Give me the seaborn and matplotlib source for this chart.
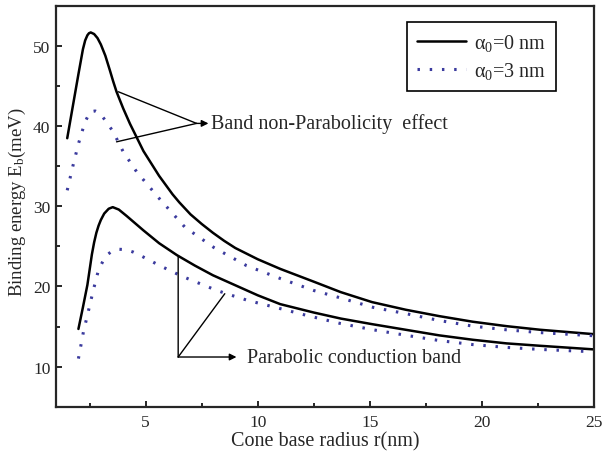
import numpy as np
import pandas as pd
import matplotlib
matplotlib.use('Agg')
import matplotlib.pyplot as plt
import seaborn as sns

# Binding energy vs cone base radius
# non-parabolic band, alpha0 = 0 nm (upper solid)
r_np0 = [1.5, 1.8, 2.0, 2.2, 2.3, 2.4, 2.47, 2.55, 2.7, 2.85, 3.0, 3.2, 3.4, 3.55, 3.7, 4.0, 4.3,
         4.9, 5.6, 6.2, 6.5, 7.0, 7.5, 8.0, 8.5, 9.0, 9.5, 10.0, 11.0, 12.5, 13.7, 15.1, 16.6,
         18.1, 19.6, 21.1, 22.6, 25.0]
E_np0 = [38.5, 43.3, 46.5, 49.6, 50.7, 51.35, 51.6, 51.7, 51.5, 51.0, 50.2, 48.8, 47.0, 45.6, 44.3,
         42.2, 40.3, 36.9, 33.8, 31.5, 30.5, 29.0, 27.8, 26.7, 25.7, 24.8, 24.1, 23.4, 22.2, 20.6,
         19.3, 18.05, 17.1, 16.3, 15.6, 15.05, 14.6, 14.05]

# non-parabolic band, alpha0 = 3 nm (upper dotted)
r_np3 = [1.5, 1.75, 2.0, 2.29, 2.52, 2.75, 2.96, 3.26, 3.55, 4.0, 4.6, 5.63, 6.75, 8.05, 9.5,
         11.0, 12.5, 13.66, 15.14, 16.63, 18.11, 19.6, 21.08, 22.57, 25.0]
E_np3 = [32.0, 35.0, 37.8, 40.5, 41.8, 41.9, 41.6, 40.5, 39.3, 36.8, 34.3, 30.9, 27.4, 24.85, 22.6,
         21.0, 19.5, 18.6, 17.4, 16.6, 15.75, 15.05, 14.6, 14.25, 13.85]

# parabolic band, alpha0 = 0 nm (lower solid)
r_p0 = [2.0, 2.2, 2.4, 2.6, 2.7, 2.8, 2.9, 3.0, 3.15, 3.35, 3.53, 3.8, 4.15, 4.9, 5.6, 6.4, 7.2,
        8.0, 9.2, 10.0, 11.0, 12.5, 13.7, 15.1, 16.6, 18.1, 19.6, 21.1, 22.6, 25.0]
E_p0 = [14.7, 17.4, 20.2, 24.0, 25.5, 26.7, 27.6, 28.3, 29.1, 29.7, 29.9, 29.6, 28.8, 27.0, 25.4,
        23.9, 22.6, 21.4, 19.9, 18.9, 17.8, 16.75, 16.0, 15.3, 14.6, 13.9, 13.35, 12.9, 12.6, 12.15]

# parabolic band, alpha0 = 3 nm (lower dotted)
r_p3 = [2.0, 2.22, 2.45, 2.66, 2.89, 3.1, 3.3, 3.55, 3.78, 4.1, 4.44, 4.74, 5.19, 5.63, 6.23, 6.6,
        7.12, 8.09, 8.6, 9.57, 11.06, 12.17, 13.66, 15.14, 16.63, 18.11, 19.6, 21.08, 22.57, 25.0]
E_p3 = [11.0, 14.3, 17.0, 19.5, 22.0, 23.2, 24.0, 24.5, 24.65, 24.6, 24.3, 23.9, 23.25, 22.6, 21.8, 21.3,
        20.7, 19.6, 19.1, 18.25, 17.2, 16.4, 15.4, 14.6, 13.9, 13.25, 12.75, 12.4, 12.15, 11.85]

sns.set_style('ticks')
plt.rcParams['font.family'] = ['Liberation Serif', 'DejaVu Serif']
plt.rcParams['mathtext.fontset'] = 'custom'
plt.rcParams['mathtext.rm'] = 'Liberation Serif'
plt.rcParams['mathtext.it'] = 'Liberation Serif'

fig = plt.figure(figsize=(6.03, 4.6), dpi=100)
ax = fig.add_axes([0.0929, 0.1137, 0.8921, 0.8711])

solid = '#000000'
dotc = '#3b3b9e'

sns.lineplot(x=r_np0, y=E_np0, ax=ax, color=solid, lw=1.8, label=r'α$_0$=0 nm')
sns.lineplot(x=r_np3, y=E_np3, ax=ax, color=dotc, lw=2.2, linestyle=(0, (0.8, 3.2)),
             label=r'α$_0$=3 nm')
sns.lineplot(x=r_p0, y=E_p0, ax=ax, color=solid, lw=1.8)
sns.lineplot(x=r_p3, y=E_p3, ax=ax, color=dotc, lw=2.2, linestyle=(0, (0.8, 3.2)))

ax.set_xlim(1, 25)
ax.set_ylim(5, 55)
ax.set_xticks([5, 10, 15, 20, 25])
ax.set_yticks([10, 20, 30, 40, 50])
ax.set_xticks([2.5, 7.5, 12.5, 17.5, 22.5], minor=True)
ax.set_yticks([15, 25, 35, 45], minor=True)
ax.tick_params(which='both', direction='in', width=1.4, labelsize=12.5, pad=5)
ax.tick_params(axis='y', pad=4)
ax.tick_params(which='major', length=4.5)
ax.tick_params(which='minor', length=3)
for s in ax.spines.values():
    s.set_linewidth(1.6)
    s.set_visible(True)

ax.set_xlabel('Cone base radius r(nm)', fontsize=14.5, labelpad=1)
ax.set_ylabel('Binding energy E$_b$(meV)', fontsize=13.5)
ax.yaxis.set_label_coords(-0.052, 0.513)

# annotations
ak = dict(arrowstyle='-', color='black', lw=1.0, shrinkA=0, shrinkB=0)
ax.annotate('', xy=(3.78, 44.3), xytext=(7.27, 40.35), arrowprops=ak)
ax.annotate('', xy=(3.7, 38.05), xytext=(7.27, 40.35), arrowprops=ak)
ax.annotate('', xy=(7.8, 40.35), xytext=(7.27, 40.35),
            arrowprops=dict(arrowstyle='-|>', color='black', lw=1.0, mutation_scale=10,
                            shrinkA=0, shrinkB=0))
ax.text(7.9, 40.35, 'Band non-Parabolicity  effect', fontsize=14.5, va='center', ha='left')

ax.annotate('', xy=(6.45, 23.7), xytext=(6.45, 11.2), arrowprops=ak)
ax.annotate('', xy=(8.53, 19.1), xytext=(6.45, 11.2), arrowprops=ak)
ax.annotate('', xy=(9.05, 11.2), xytext=(6.45, 11.2),
            arrowprops=dict(arrowstyle='-|>', color='black', lw=1.0, mutation_scale=10,
                            shrinkA=0, shrinkB=0))
ax.text(9.5, 11.2, 'Parabolic conduction band', fontsize=14.5, va='center', ha='left')

leg = ax.legend(loc='upper right', bbox_to_anchor=(0.929, 0.961), borderaxespad=0,
                fontsize=14.5, frameon=True, fancybox=False, edgecolor='black',
                framealpha=1, handlelength=2.4, handletextpad=0.4, borderpad=0.5,
                labelspacing=0.35)
leg.get_frame().set_linewidth(1.2)

fig.savefig('out.png', dpi=100)
